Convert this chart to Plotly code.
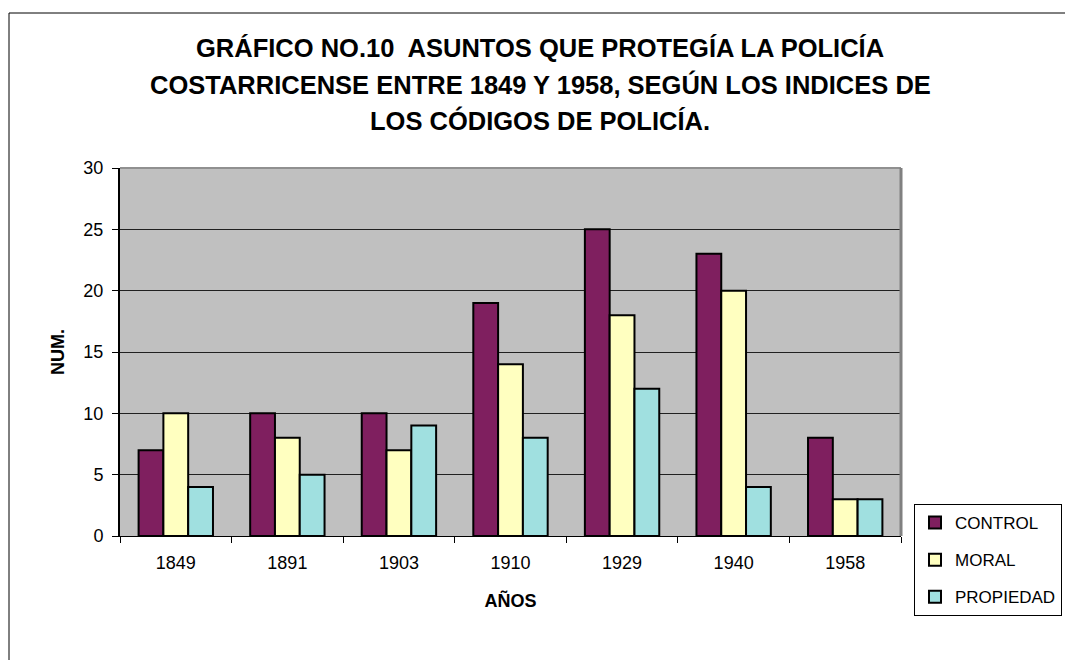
import plotly.graph_objects as go

# Values
years = ['1849', '1891', '1903', '1910', '1929', '1940', '1958']
control = [7, 10, 10, 19, 25, 23, 8]
moral = [10, 8, 7, 14, 18, 20, 3]
propiedad = [4, 5, 9, 8, 12, 4, 3]

series_names = ['CONTROL', 'MORAL', 'PROPIEDAD']
series_colors = ['#7F1F5F', '#FFFFC0', '#A0E0E0']

title_lines = [
    'GRÁFICO NO.10  ASUNTOS QUE PROTEGÍA LA POLICÍA',
    'COSTARRICENSE ENTRE 1849 Y 1958, SEGÚN LOS INDICES DE',
    'LOS CÓDIGOS DE POLICÍA.',
]

W, H = 1065, 660
L, R, T, B = 120, 901, 168, 536  # plot area in pixels


def px_x(px):
    return (px - L) / (R - L)


def px_y(py):
    return (B - py) / (B - T)


fig = go.Figure()
for name, vals, col in zip(series_names, [control, moral, propiedad], series_colors):
    fig.add_trace(go.Bar(
        x=years, y=vals, name=name, legendgroup=name,
        marker=dict(color=col, line=dict(color='black', width=2)),
    ))

# title as three lines to get the wide line spacing
for i, line in enumerate(title_lines):
    fig.add_annotation(
        text='<b>' + line + '</b>', showarrow=False,
        xref='paper', yref='paper', x=px_x(540), y=px_y(48 + i * 36.5),
        xanchor='center', yanchor='middle',
        font=dict(size=25.5),
    )

fig.update_layout(
    width=W, height=H,
    margin=dict(l=L, r=W - R, t=T, b=H - B, autoexpand=False),
    paper_bgcolor='white',
    plot_bgcolor='#C0C0C0',
    barmode='group',
    bargap=1 / 3,
    bargroupgap=0,
    font=dict(family='Liberation Sans, Arial, sans-serif', size=18, color='black'),
    xaxis=dict(
        type='category',
        showline=True, linecolor='black', linewidth=1,
        ticks='outside', tickson='boundaries', ticklen=6, tickcolor='black',
        showgrid=False,
        tickfont=dict(size=18), ticklabelstandoff=10,
        title=dict(text='<b>AÑOS</b>', font=dict(size=18), standoff=22),
    ),
    yaxis=dict(
        range=[0, 30], dtick=5,
        showline=True, linecolor='black', linewidth=2,
        ticks='outside', ticklen=6, tickcolor='black',
        showgrid=True, gridcolor='#202020', gridwidth=1,
        zeroline=False,
        tickfont=dict(size=18), ticklabelstandoff=5,
        title=dict(text='<b>NUM.</b>', font=dict(size=18), standoff=14),
    ),
    legend=dict(
        x=px_x(914), xanchor='left', y=px_y(504), yanchor='top',
        bgcolor='white', bordercolor='black', borderwidth=1,
        font=dict(size=17),
        traceorder='grouped', tracegroupgap=12,
        itemwidth=30,
    ),
    shapes=[
        # outer chart border
        dict(type='rect', xref='paper', yref='paper',
             x0=px_x(9), x1=px_x(1080), y0=px_y(700), y1=px_y(13),
             line=dict(color='black', width=1), layer='below'),
        # plot area shadow top and right
        dict(type='line', xref='paper', yref='paper',
             x0=0, x1=1, y0=1, y1=1, line=dict(color='#909090', width=2)),
        dict(type='line', xref='paper', yref='paper',
             x0=1, x1=1, y0=0, y1=1, line=dict(color='#808080', width=3)),
    ],
)

fig.write_html('out.html', config={'displayModeBar': False},
               post_script="document.body.style.margin='0';")
